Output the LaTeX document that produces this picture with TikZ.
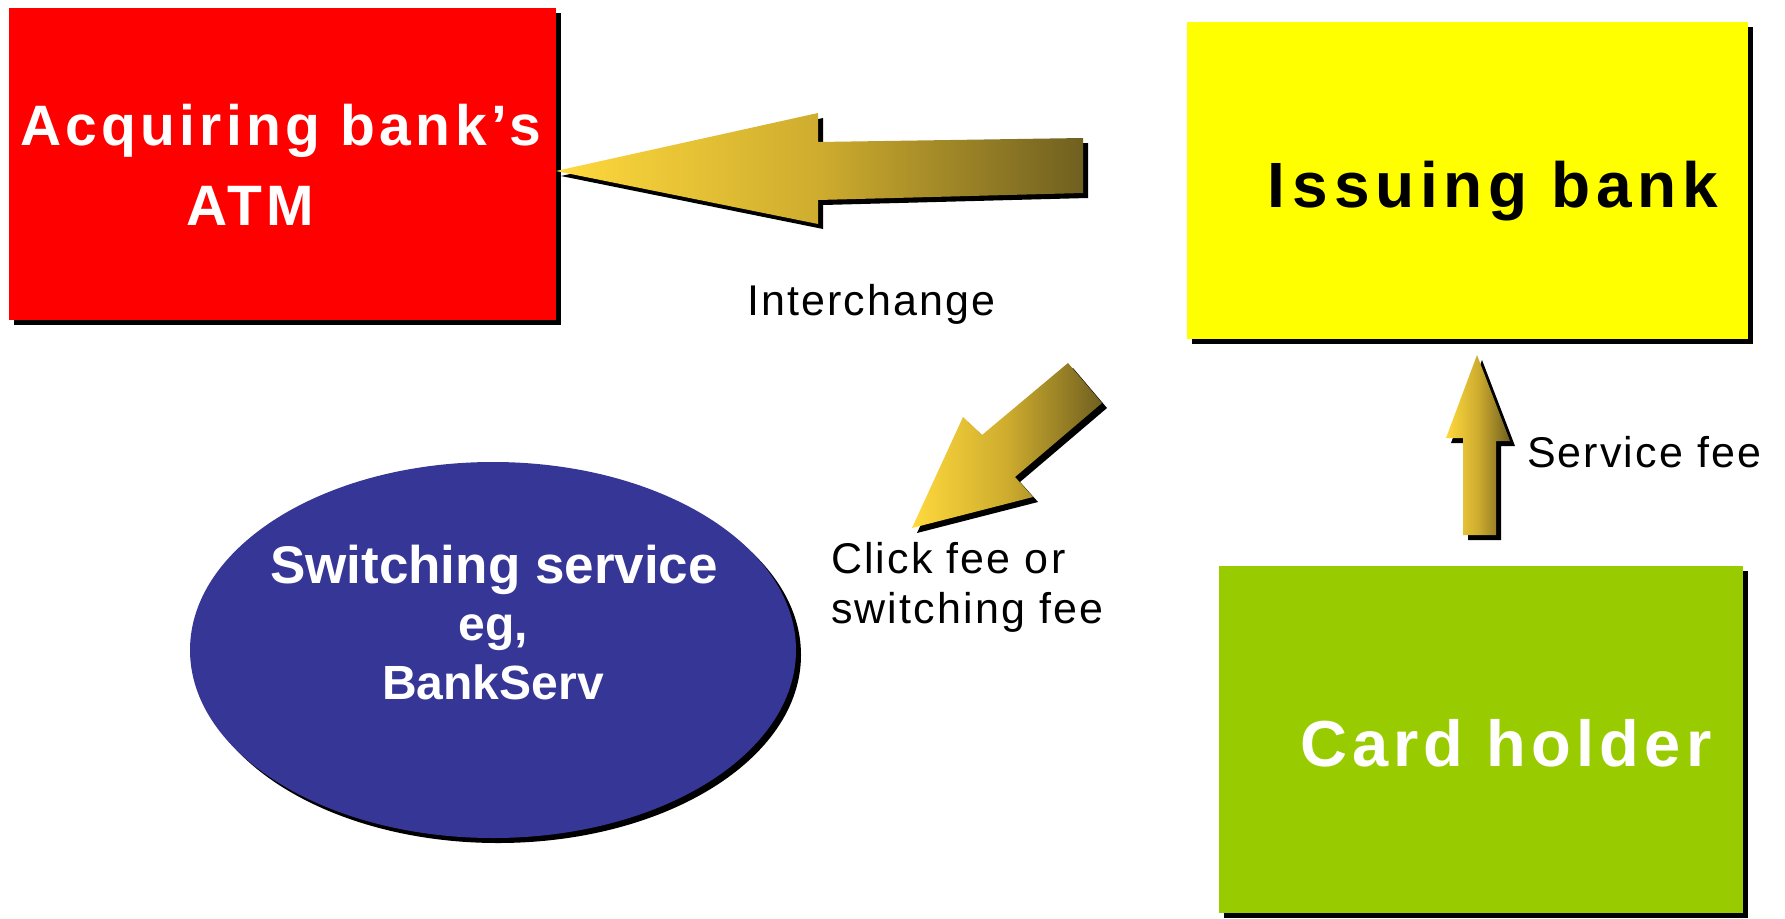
\documentclass[tikz,border=0pt]{standalone}
\usepackage{fontspec}
\setmainfont{Liberation Sans}
\usetikzlibrary{shapes.geometric,shadows}

\definecolor{acqred}{RGB}{255,0,0}
\definecolor{issyellow}{RGB}{255,255,0}
\definecolor{holdergreen}{RGB}{153,204,0}
\definecolor{switchblue}{RGB}{54,54,150}
\definecolor{goldlight}{RGB}{255,217,61}
\definecolor{goldmid}{RGB}{206,172,46}
\definecolor{golddark}{RGB}{112,96,32}

\tikzset{
  hardshadow/.style={drop shadow={shadow xshift=5pt,shadow yshift=-5pt,fill=black,opacity=1}},
  panel/.style={rectangle,draw=none,inner sep=0pt,outer sep=0pt,anchor=north west,hardshadow},
  feearrow/.style={draw=none,left color=goldlight,right color=golddark,middle color=goldmid,hardshadow},
  boxtext/.style={anchor=base west,inner sep=0pt,outer sep=0pt},
  feetext/.style={boxtext,text=black,font=\fontsize{43}{43}\selectfont\addfontfeatures{LetterSpace=5}},
  ovaltext/.style={anchor=base,inner sep=0pt,outer sep=0pt,text=white},
}

\begin{document}
\begin{tikzpicture}[x=1pt,y=-1pt]
  \useasboundingbox (0,0) rectangle (1785,918);
  \fill[white] (0,0) rectangle (1785,918);

  % parties
  \node[panel,fill=acqred,minimum width=547pt,minimum height=312pt] (acq) at (9,8) {};
  \node[panel,fill=issyellow,minimum width=561pt,minimum height=317pt] (iss) at (1187,22) {};
  \node[panel,fill=holdergreen,minimum width=524pt,minimum height=347pt] (holder) at (1219,566) {};
  \node[ellipse,fill=switchblue,draw=none,inner sep=0pt,minimum width=606pt,minimum height=376pt,hardshadow] (switch) at (493,650) {};

  % titles
  \node[boxtext,text=white,font=\fontsize{57}{57}\selectfont\bfseries\addfontfeatures{LetterSpace=7.6}] (acqA) at (20,145) {Acquiring bank’s};
  \node[boxtext,text=white,font=\fontsize{57}{57}\selectfont\bfseries\addfontfeatures{LetterSpace=7.6}] (acqB) at (186,225) {ATM};
  \node[boxtext,text=black,font=\fontsize{64}{64}\selectfont\bfseries\addfontfeatures{LetterSpace=9}] (issA) at (1267,207) {I\kern 8pt ssuing bank};
  \node[boxtext,text=white,font=\fontsize{65}{65}\selectfont\bfseries\addfontfeatures{LetterSpace=8}] (holderA) at (1300,766) {Card holder};
  \node[ovaltext,font=\fontsize{53}{53}\selectfont\bfseries] (switchA) at (494,583) {Switching service};
  \node[ovaltext,font=\fontsize{48}{48}\selectfont\bfseries] (switchB) at (493,640) {eg,};
  \node[ovaltext,font=\fontsize{48}{48}\selectfont\bfseries] (switchC) at (493,699) {BankServ};

  % fee flows
  \coordinate (interTip) at (556,171);
  \path[feearrow] (interTip) -- (818,113) -- (818,142) -- (1083,138) -- (1083,193)
    -- (818,200) -- (818,224) -- cycle;

  \coordinate (clickTip) at (912,528);
  \path[feearrow] (1068,363) -- (1102,403) -- (1015,477) -- (1033,497) -- (clickTip)
    -- (963,417) -- (982,435) -- cycle;

  \coordinate (serviceTip) at (1477,355);
  \path[feearrow] (serviceTip) -- (1510,441) -- (1496,441) -- (1496,535) -- (1463,535)
    -- (1463,438) -- (1446,438) -- cycle;

  % fee labels
  \node[feetext] (interLbl) at (747,315) {Interchange};
  \node[feetext] (clickLblA) at (831,573) {Click fee or};
  \node[feetext] (clickLblB) at (831,623) {switching fee};
  \node[feetext] (serviceLbl) at (1527,467) {Service fee};
\end{tikzpicture}
\end{document}
